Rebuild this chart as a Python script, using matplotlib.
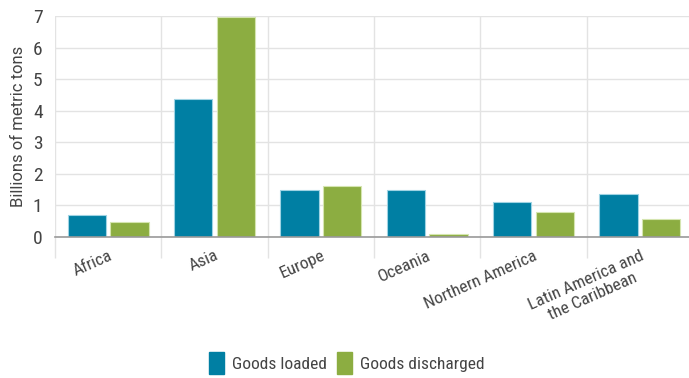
import matplotlib.pyplot as plt
import matplotlib.patches as patches
import numpy as np

regions = ["Africa", "Asia", "Europe", "Oceania", "Northern America",
           "Latin America and\nthe Caribbean"]
goodsLoaded = [0.70, 4.38, 1.50, 1.48, 1.10, 1.35]
goodsDischarged = [0.49, 6.97, 1.60, 0.10, 0.80, 0.57]
yTicks = [0, 1, 2, 3, 4, 5, 6, 7]

blue = "#007fa3"
green = "#8cad41"
textColor = "#444444"
cond = ["Roboto Condensed", "DejaVu Sans"]

plt.rcParams["font.family"] = ["Roboto", "DejaVu Sans"]

fig = plt.figure(figsize=(6.89, 3.78), dpi=100)
ax = fig.add_axes([55/689, 1 - 237/378, 638/689, 221/378])

x = np.arange(len(regions))
w = 0.36
ax.bar(x - 0.2, goodsLoaded, w, color=blue, edgecolor="#9fd3e3", linewidth=0.8, zorder=3)
ax.bar(x + 0.2, goodsDischarged, w, color=green, edgecolor="#d5e5b0", linewidth=0.8, zorder=3)

ax.set_xlim(-0.5, len(regions) - 0.5)
ax.set_ylim(0, 7)
ax.set_yticks(yTicks)
ax.set_yticklabels([str(t) for t in yTicks], family=cond, fontsize=14, color=textColor)
ax.yaxis.grid(True, color="#e3e3e3", linewidth=1, zorder=0)

# category boundaries as vertical lines extending below the axis
bounds = np.arange(len(regions)) - 0.5
ax.set_xticks(bounds, minor=True)
ax.xaxis.grid(True, which="minor", color="#e3e3e3", linewidth=1, zorder=0)
ax.tick_params(axis="x", which="minor", length=15, color="#e3e3e3", width=1)
ax.set_xticks(x)
ax.set_xticklabels(regions, rotation=24, ha="right", rotation_mode="anchor",
                   multialignment="center", fontsize=12.5, color=textColor, family=cond)
ax.tick_params(axis="x", which="major", length=0, pad=8)
ax.tick_params(axis="y", length=0, pad=9)

for s in ["top", "right", "left"]:
    ax.spines[s].set_visible(False)
ax.spines["bottom"].set_color("#999999")
ax.spines["bottom"].set_linewidth(1.2)
ax.spines["bottom"].set_zorder(4)

ax.set_ylabel("Billions of metric tons", fontsize=12, color=textColor, labelpad=5)

handles = [patches.Patch(color=blue, label="Goods loaded"),
           patches.Patch(color=green, label="Goods discharged")]
fig.legend(handles=handles, loc="center", bbox_to_anchor=(347/689, 1 - 363/378),
           ncol=2, frameon=False, handlelength=0.85, handleheight=1.6,
           handletextpad=0.45, columnspacing=0.6, labelcolor=textColor,
           prop={"family": cond, "size": 12.5})

fig.savefig("out.png", dpi=100)
